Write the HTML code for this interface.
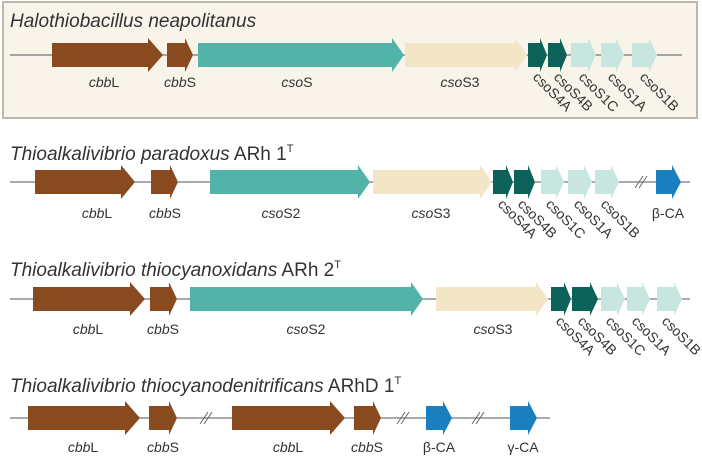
<!DOCTYPE html><html><head><style>body{margin:0;background:#fff}svg text{font-family:"Liberation Sans",sans-serif;font-size:14px;fill:#333}</style></head><body>
<svg width="702" height="460" viewBox="0 0 702 460" xmlns="http://www.w3.org/2000/svg">
<rect x="3" y="2" width="694" height="116" fill="#f8f4ea" stroke="#bdb8ac" stroke-width="2"/>
<g stroke="#555" stroke-width="1">
<line x1="10" y1="55" x2="682" y2="55"/>
<line x1="10" y1="182" x2="690" y2="182"/>
<line x1="10" y1="299" x2="690" y2="299"/>
<line x1="10" y1="418" x2="550" y2="418"/>
</g>
<!-- row1 -->
<polygon points="52,43 148,43 148,38 163,55 148,72 148,67 52,67" fill="#8a4a1f"/>
<polygon points="167,43 185,43 185,38 193,55 185,72 185,67 167,67" fill="#8a4a1f"/>
<polygon points="198,43 392,43 392,38 404,55 392,72 392,67 198,67" fill="#52b3a8"/>
<polygon points="405,43 515,43 515,38 527,55 515,72 515,67 405,67" fill="#f3e6c6"/>
<polygon points="528,43 540,43 540,38 547,55 540,72 540,67 528,67" fill="#0c6258"/>
<polygon points="548,43 560,43 560,38 567,55 560,72 560,67 548,67" fill="#0c6258"/>
<polygon points="571,43 588,43 588,38 596,55 588,72 588,67 571,67" fill="#c8e6e0"/>
<polygon points="601,43 616,43 616,38 624,55 616,72 616,67 601,67" fill="#c8e6e0"/>
<polygon points="632,43 649,43 649,38 657,55 649,72 649,67 632,67" fill="#c8e6e0"/>
<!-- row2 -->
<polygon points="35,170 121,170 121,165 135,182 121,199 121,194 35,194" fill="#8a4a1f"/>
<polygon points="151,170 170,170 170,165 178,182 170,199 170,194 151,194" fill="#8a4a1f"/>
<polygon points="210,170 358,170 358,165 370,182 358,199 358,194 210,194" fill="#52b3a8"/>
<polygon points="373,170 480,170 480,165 492,182 480,199 480,194 373,194" fill="#f3e6c6"/>
<polygon points="493,170 506,170 506,165 513,182 506,199 506,194 493,194" fill="#0c6258"/>
<polygon points="514,170 528,170 528,165 535,182 528,199 528,194 514,194" fill="#0c6258"/>
<polygon points="541,170 556,170 556,165 564,182 556,199 556,194 541,194" fill="#c8e6e0"/>
<polygon points="568,170 584,170 584,165 592,182 584,199 584,194 568,194" fill="#c8e6e0"/>
<polygon points="595,170 611,170 611,165 619,182 611,199 611,194 595,194" fill="#c8e6e0"/>
<polygon points="656,170 672,170 672,165 681,182 672,199 672,194 656,194" fill="#1a7fbf"/>
<!-- row3 -->
<polygon points="33,287 130,287 130,282 145,299 130,316 130,311 33,311" fill="#8a4a1f"/>
<polygon points="150,287 169,287 169,282 177,299 169,316 169,311 150,311" fill="#8a4a1f"/>
<polygon points="190,287 411,287 411,282 423,299 411,316 411,311 190,311" fill="#52b3a8"/>
<polygon points="436,287 536,287 536,282 548,299 536,316 536,311 436,311" fill="#f3e6c6"/>
<polygon points="551,287 564,287 564,282 571,299 564,316 564,311 551,311" fill="#0c6258"/>
<polygon points="572,287 590,287 590,282 598,299 590,316 590,311 572,311" fill="#0c6258"/>
<polygon points="601,287 617,287 617,282 625,299 617,316 617,311 601,311" fill="#c8e6e0"/>
<polygon points="627,287 642,287 642,282 650,299 642,316 642,311 627,311" fill="#c8e6e0"/>
<polygon points="657,287 674,287 674,282 682,299 674,316 674,311 657,311" fill="#c8e6e0"/>
<!-- row4 -->
<polygon points="28,406 125,406 125,401 140,418 125,435 125,430 28,430" fill="#8a4a1f"/>
<polygon points="149,406 169,406 169,401 177,418 169,435 169,430 149,430" fill="#8a4a1f"/>
<polygon points="232,406 330,406 330,401 345,418 330,435 330,430 232,430" fill="#8a4a1f"/>
<polygon points="354,406 373,406 373,401 381,418 373,435 373,430 354,430" fill="#8a4a1f"/>
<polygon points="426,406 443,406 443,401 452,418 443,435 443,430 426,430" fill="#1a7fbf"/>
<polygon points="510,406 528,406 528,401 537,418 528,435 528,430 510,430" fill="#1a7fbf"/>
<!-- breaks -->
<g stroke="#666" stroke-width="1">
<line x1="635" y1="188" x2="643" y2="176"/><line x1="639" y1="188" x2="647" y2="176"/>
<line x1="200" y1="424" x2="208" y2="412"/><line x1="204" y1="424" x2="212" y2="412"/>
<line x1="397" y1="424" x2="405" y2="412"/><line x1="401" y1="424" x2="409" y2="412"/>
<line x1="472" y1="424" x2="480" y2="412"/><line x1="476" y1="424" x2="484" y2="412"/>
</g>
<text x="10" y="27" style="font-size:19px;font-style:italic">Halothiobacillus neapolitanus</text>
<text x="10" y="160" style="font-size:19px"><tspan font-style="italic">Thioalkalivibrio paradoxus</tspan> ARh 1<tspan dy="-8" style="font-size:11px">T</tspan></text>
<text x="10" y="276" style="font-size:19px"><tspan font-style="italic">Thioalkalivibrio thiocyanoxidans</tspan> ARh 2<tspan dy="-8" style="font-size:11px">T</tspan></text>
<text x="10" y="392" style="font-size:19px"><tspan font-style="italic">Thioalkalivibrio thiocyanodenitrificans</tspan> ARhD 1<tspan dy="-8" style="font-size:11px">T</tspan></text>
<g text-anchor="middle">
<text x="104" y="87"><tspan font-style="italic">cbb</tspan>L</text>
<text x="180" y="87"><tspan font-style="italic">cbb</tspan>S</text>
<text x="297" y="87"><tspan font-style="italic">cso</tspan>S</text>
<text x="460" y="87"><tspan font-style="italic">cso</tspan>S3</text>
<text x="97" y="218"><tspan font-style="italic">cbb</tspan>L</text>
<text x="165" y="218"><tspan font-style="italic">cbb</tspan>S</text>
<text x="281" y="218"><tspan font-style="italic">cso</tspan>S2</text>
<text x="431" y="218"><tspan font-style="italic">cso</tspan>S3</text>
<text x="668" y="218">β-CA</text>
<text x="88" y="334"><tspan font-style="italic">cbb</tspan>L</text>
<text x="163" y="334"><tspan font-style="italic">cbb</tspan>S</text>
<text x="306" y="334"><tspan font-style="italic">cso</tspan>S2</text>
<text x="493" y="334"><tspan font-style="italic">cso</tspan>S3</text>
<text x="83" y="452"><tspan font-style="italic">cbb</tspan>L</text>
<text x="163" y="452"><tspan font-style="italic">cbb</tspan>S</text>
<text x="288" y="452"><tspan font-style="italic">cbb</tspan>L</text>
<text x="367" y="452"><tspan font-style="italic">cbb</tspan>S</text>
<text x="439" y="452">β-CA</text>
<text x="523" y="452">γ-CA</text>
</g>
<g>
<text transform="translate(532,78) rotate(45)">csoS4A</text>
<text transform="translate(553,78) rotate(45)">csoS4B</text>
<text transform="translate(578,78) rotate(45)">csoS1C</text>
<text transform="translate(607,78) rotate(45)">csoS1A</text>
<text transform="translate(639,78) rotate(45)">csoS1B</text>
<text transform="translate(497,205) rotate(45)">csoS4A</text>
<text transform="translate(517,205) rotate(45)">csoS4B</text>
<text transform="translate(545,205) rotate(45)">csoS1C</text>
<text transform="translate(573,205) rotate(45)">csoS1A</text>
<text transform="translate(600,205) rotate(45)">csoS1B</text>
<text transform="translate(555,322) rotate(45)">csoS4A</text>
<text transform="translate(577,322) rotate(45)">csoS4B</text>
<text transform="translate(605,322) rotate(45)">csoS1C</text>
<text transform="translate(631,322) rotate(45)">csoS1A</text>
<text transform="translate(661,322) rotate(45)">csoS1B</text>
</g>
</svg></body></html>
